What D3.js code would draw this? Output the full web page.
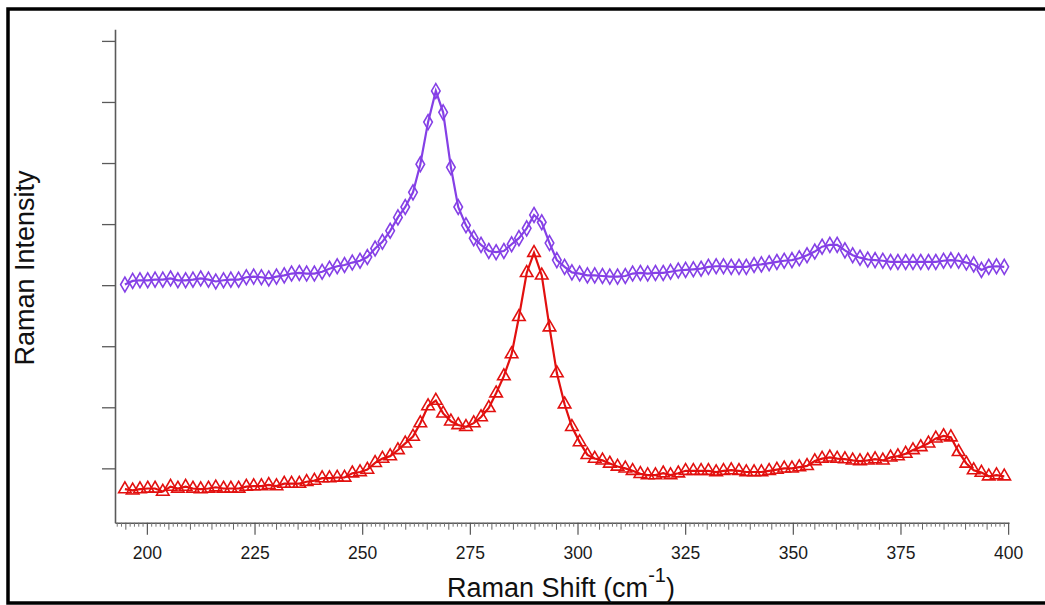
<!DOCTYPE html>
<html>
<head>
<meta charset="utf-8">
<script src="https://cdn.jsdelivr.net/npm/d3@7"></script>
<style>
  body { margin: 0; background: #fff; }
  svg { display: block; font-family: "Liberation Sans", Arial, sans-serif; }
</style>
</head>
<body>
<div id="chart"></div>
<script>
// Raman shift (cm-1) of each measured point
const shift = [
  194.9, 196.7, 198.4, 200.2, 201.9, 203.7, 205.5, 207.2, 209.0, 210.7,
  212.5, 214.3, 216.0, 217.8, 219.5, 221.3, 223.1, 224.8, 226.6, 228.3,
  230.1, 231.9, 233.6, 235.4, 237.1, 238.9, 240.7, 242.4, 244.2, 245.9,
  247.7, 249.5, 251.2, 253.0, 254.7, 256.5, 258.3, 260.0, 261.8, 263.5,
  265.3, 267.1, 268.8, 270.6, 272.3, 274.1, 275.9, 277.6, 279.4, 281.1,
  282.9, 284.7, 286.4, 288.2, 289.9, 291.7, 293.5, 295.2, 297.0, 298.7,
  300.5, 302.3, 304.0, 305.8, 307.5, 309.3, 311.1, 312.8, 314.6, 316.3,
  318.1, 319.9, 321.6, 323.4, 325.1, 326.9, 328.7, 330.4, 332.2, 333.9,
  335.7, 337.5, 339.2, 341.0, 342.7, 344.5, 346.3, 348.0, 349.8, 351.5,
  353.3, 355.1, 356.8, 358.6, 360.3, 362.1, 363.9, 365.6, 367.4, 369.1,
  370.9, 372.7, 374.4, 376.2, 377.9, 379.7, 381.5, 383.2, 385.0, 386.7,
  388.5, 390.3, 392.0, 393.8, 395.5, 397.3, 399.1
];

// upper spectrum (purple diamonds), offset intensity
const upper = [
  4.01, 4.07, 4.08, 4.08, 4.09, 4.09, 4.11, 4.08, 4.08, 4.09,
  4.11, 4.09, 4.06, 4.08, 4.09, 4.09, 4.13, 4.14, 4.13, 4.11,
  4.14, 4.16, 4.19, 4.20, 4.19, 4.19, 4.22, 4.27, 4.31, 4.33,
  4.37, 4.40, 4.46, 4.60, 4.71, 4.89, 5.11, 5.28, 5.52, 5.98,
  6.67, 7.18, 6.83, 5.93, 5.28, 4.98, 4.77, 4.66, 4.56, 4.54,
  4.56, 4.67, 4.77, 4.93, 5.15, 5.03, 4.69, 4.41, 4.30, 4.21,
  4.19, 4.16, 4.16, 4.15, 4.14, 4.14, 4.15, 4.19, 4.20, 4.19,
  4.20, 4.20, 4.22, 4.24, 4.25, 4.26, 4.27, 4.30, 4.31, 4.31,
  4.30, 4.30, 4.30, 4.33, 4.34, 4.36, 4.38, 4.40, 4.41, 4.44,
  4.49, 4.55, 4.63, 4.66, 4.66, 4.57, 4.49, 4.45, 4.42, 4.41,
  4.40, 4.38, 4.38, 4.38, 4.38, 4.38, 4.38, 4.38, 4.40, 4.41,
  4.40, 4.37, 4.34, 4.25, 4.30, 4.31, 4.30
];

// lower spectrum (red triangles)
const lower = [
  0.66, 0.64, 0.66, 0.67, 0.67, 0.62, 0.70, 0.67, 0.70, 0.67,
  0.66, 0.67, 0.69, 0.67, 0.67, 0.67, 0.70, 0.71, 0.71, 0.73,
  0.71, 0.75, 0.75, 0.75, 0.78, 0.80, 0.84, 0.84, 0.85, 0.85,
  0.92, 0.94, 0.98, 1.09, 1.16, 1.20, 1.30, 1.41, 1.52, 1.74,
  2.02, 2.11, 1.90, 1.77, 1.71, 1.68, 1.74, 1.84, 1.99, 2.23,
  2.51, 2.87, 3.48, 4.20, 4.53, 4.16, 3.31, 2.56, 2.05, 1.68,
  1.43, 1.22, 1.16, 1.13, 1.08, 1.03, 1.00, 0.96, 0.91, 0.89,
  0.89, 0.92, 0.89, 0.92, 0.96, 0.96, 0.96, 0.96, 0.94, 0.96,
  0.97, 0.96, 0.94, 0.94, 0.94, 0.96, 0.98, 1.00, 1.00, 1.02,
  1.04, 1.12, 1.16, 1.18, 1.16, 1.15, 1.13, 1.12, 1.13, 1.15,
  1.13, 1.18, 1.20, 1.24, 1.30, 1.35, 1.41, 1.49, 1.53, 1.51,
  1.27, 1.08, 0.97, 0.93, 0.87, 0.89, 0.87
];

const xLabels = [200, 225, 250, 275, 300, 325, 350, 375, 400];
const yTicks = [1, 2, 3, 4, 5, 6, 7, 8];

const width = 1045, height = 605;
const svg = d3.select("#chart").append("svg")
  .attr("width", width)
  .attr("height", height);

// outer frame
svg.append("rect")
  .attr("x", 8).attr("y", 9)
  .attr("width", 1060).attr("height", 594)
  .attr("fill", "none")
  .attr("stroke", "#000")
  .attr("stroke-width", 3.5);

const x = d3.scaleLinear().domain([192.6, 400.2]).range([115, 1009]);
const y = d3.scaleLinear().domain([0.11, 8.19]).range([522.7, 29.3]);

const axisColor = "#5a5a5a";

// y axis: ticks only, no labels
const yAxis = svg.append("g")
  .attr("transform", "translate(115,0)")
  .call(d3.axisLeft(y).tickValues(yTicks).tickSize(13).tickSizeOuter(0).tickFormat(""));
yAxis.select(".domain").attr("stroke", axisColor).attr("stroke-width", 1.6);
yAxis.selectAll(".tick line").attr("stroke", axisColor).attr("stroke-width", 1.3);

// x axis: minor ticks every 1, medium every 5, major every 25
const minor = d3.range(193, 401).filter(v => v % 5 !== 0);
const medium = d3.range(195, 401, 5).filter(v => v % 25 !== 0);

const xMinor = svg.append("g")
  .attr("transform", "translate(0,522.7)")
  .call(d3.axisBottom(x).tickValues(minor).tickSize(4).tickSizeOuter(0).tickFormat(""));
xMinor.select(".domain").attr("stroke", axisColor).attr("stroke-width", 1.6);
xMinor.selectAll(".tick line").attr("stroke", "#777").attr("stroke-width", 1);

const xMed = svg.append("g")
  .attr("transform", "translate(0,522.7)")
  .call(d3.axisBottom(x).tickValues(medium).tickSize(7).tickFormat(""));
xMed.select(".domain").remove();
xMed.selectAll(".tick line").attr("stroke", "#666").attr("stroke-width", 1);

const xMajor = svg.append("g")
  .attr("transform", "translate(0,522.7)")
  .call(d3.axisBottom(x).tickValues(xLabels).tickSize(12).tickPadding(12).tickFormat(d3.format("d")));
xMajor.select(".domain").remove();
xMajor.selectAll(".tick line").attr("stroke", "#555").attr("stroke-width", 1.2);
xMajor.selectAll(".tick text")
  .attr("font-size", 17.5)
  .attr("font-family", "'Liberation Sans', Arial, sans-serif")
  .attr("fill", "#1a1a1a");

// axis titles
svg.append("text")
  .attr("transform", "translate(34,268) rotate(-90)")
  .attr("text-anchor", "middle")
  .attr("font-size", 27)
  .attr("fill", "#111")
  .text("Raman Intensity");

const xt = svg.append("text")
  .attr("x", 561).attr("y", 597)
  .attr("text-anchor", "middle")
  .attr("font-size", 27)
  .attr("fill", "#111");
xt.append("tspan").text("Raman Shift (cm");
xt.append("tspan").attr("font-size", 20).attr("dy", -15).text("-1");
xt.append("tspan").attr("dy", 15).text(")");

// series
const series = [
  { values: upper, color: "#8540e6", symbol: d3.symbolDiamond, size: 64 },
  { values: lower, color: "#e2100f", symbol: d3.symbolTriangle, size: 68 }
];

const line = d3.line()
  .x(d => x(d[0]))
  .y(d => y(d[1]));

series.forEach(s => {
  const pts = shift.map((v, i) => [v, s.values[i]]);
  const g = svg.append("g");
  g.append("path")
    .datum(pts)
    .attr("d", line)
    .attr("fill", "none")
    .attr("stroke", s.color)
    .attr("stroke-width", 2.2);
  g.selectAll("path.mark")
    .data(pts)
    .join("path")
    .attr("class", "mark")
    .attr("transform", d => `translate(${x(d[0])},${y(d[1])})`)
    .attr("d", d3.symbol().type(s.symbol).size(s.size))
    .attr("fill", "none")
    .attr("stroke", s.color)
    .attr("stroke-width", 1.6);
});
</script>
</body>
</html>
